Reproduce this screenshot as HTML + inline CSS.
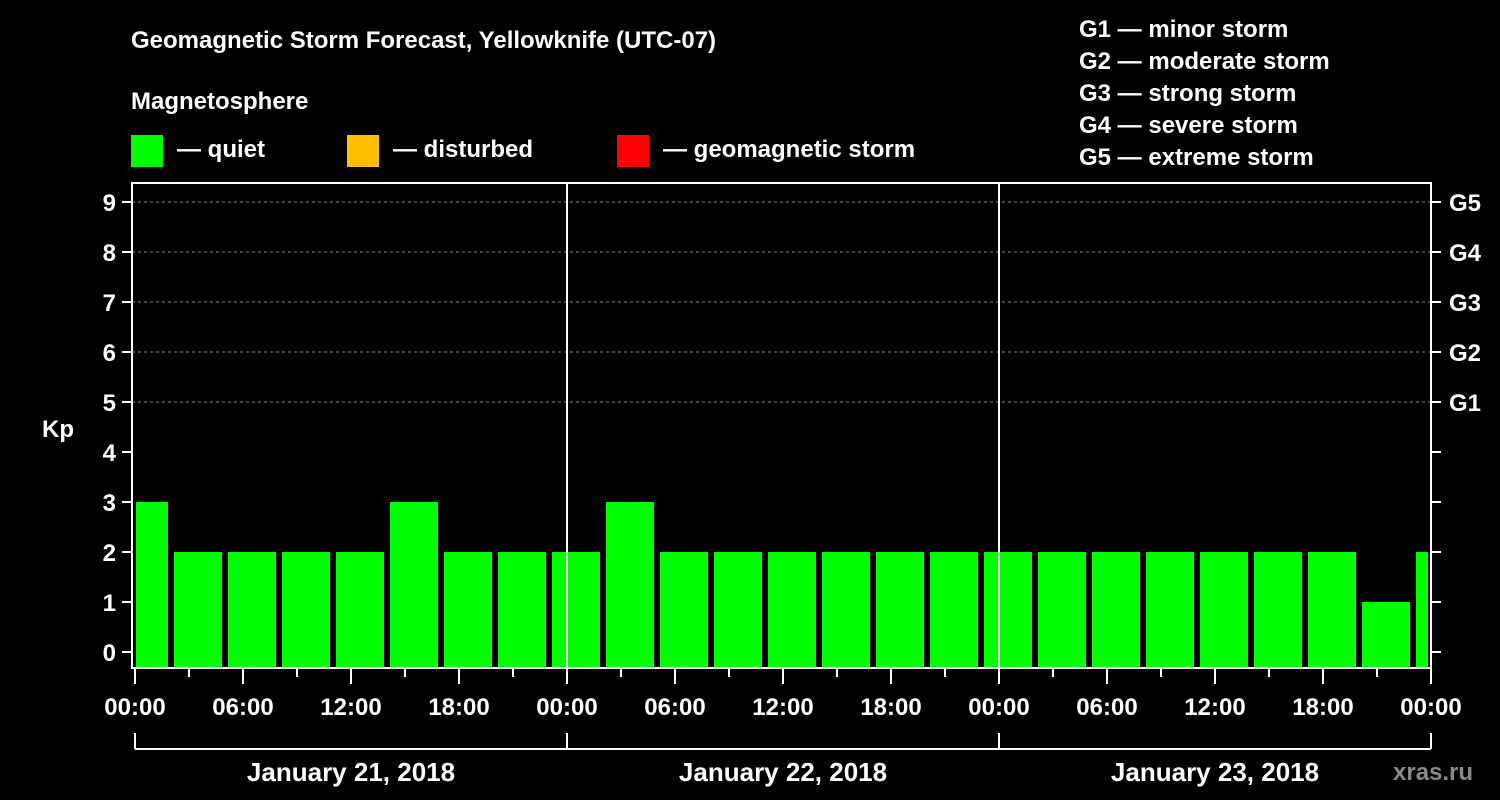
<!DOCTYPE html>
<html><head><meta charset="utf-8"><style>
html,body{margin:0;padding:0;background:#000;width:1500px;height:800px;overflow:hidden}
svg text{font-family:"Liberation Sans",Arial,sans-serif;font-weight:bold;fill:#fff}
</style></head><body>
<svg id="c" width="1500" height="800" xmlns="http://www.w3.org/2000/svg">
<text x="131" y="48" font-size="24">Geomagnetic Storm Forecast, Yellowknife (UTC-07)</text>
<text x="131" y="109" font-size="24">Magnetosphere</text>
<g><rect x="131" y="135" width="32" height="32" fill="#00ff00"/><text x="177" y="157" font-size="24">— quiet</text></g>
<g><rect x="347" y="135" width="32" height="32" fill="#ffbf00"/><text x="393" y="157" font-size="24">— disturbed</text></g>
<g><rect x="617" y="135" width="32" height="32" fill="#ff0000"/><text x="663" y="157" font-size="24">— geomagnetic storm</text></g>
<g font-size="24">
<text x="1079" y="37" font-size="24">G1 — minor storm</text>
<text x="1079" y="69" font-size="24">G2 — moderate storm</text>
<text x="1079" y="101" font-size="24">G3 — strong storm</text>
<text x="1079" y="133" font-size="24">G4 — severe storm</text>
<text x="1079" y="165" font-size="24">G5 — extreme storm</text>
</g>
<g id="grid"></g><g id="bars"></g><g id="axes"></g>
<text x="1393" y="780" font-size="24" fill="#888" style="fill:#8a8a8a">xras.ru</text>
</svg>
<script>
const kpValues=[3,2,2,2,2,3,2,2,2,3,2,2,2,2,2,2,2,2,2,2,2,2,2,1,2];
const kpTicks=[0,1,2,3,4,5,6,7,8,9];
const gLabels=["G1","G2","G3","G4","G5"];
const hourLabels=["00:00","06:00","12:00","18:00"];
const dayLabels=["January 21, 2018","January 22, 2018","January 23, 2018"];
const NS="http://www.w3.org/2000/svg";
const X0=135,PXH=18,L=132,R=1431,T=183,B=668;
const xs=h=>X0+h*PXH;
const ys=v=>652-50*v;
function mk(p,tag,a){const e=document.createElementNS(NS,tag);for(const k in a)e.setAttribute(k,a[k]);p.appendChild(e);return e;}
const grid=document.getElementById('grid'),bars=document.getElementById('bars'),axes=document.getElementById('axes');
for(let v=5;v<=9;v++){const l=mk(grid,'line',{x1:L,x2:R,y1:ys(v),y2:ys(v),stroke:'#888','stroke-dasharray':'3,3','stroke-width':1});

}
kpValues.forEach((v,i)=>{
 let s=xs(2+3*(i-1))+3,e=xs(2+3*i)-3;
 s=Math.max(s,L+4);e=Math.min(e,R-3);
 const col=v>=5?'#ff0000':(v>=4?'#ffbf00':'#00ff00');
 const r=mk(bars,'rect',{x:s,y:ys(v),width:e-s,height:B-ys(v),fill:col});
 
 
});
for(let d=1;d<3;d++){const l=mk(axes,'line',{x1:xs(24*d),x2:xs(24*d),y1:T,y2:B,stroke:'#fff','stroke-width':2});

}
mk(axes,'path',{d:`M${L} ${T}H${R}V${B}H${L}Z`,fill:'none',stroke:'#fff','stroke-width':2});
kpTicks.forEach(v=>{
 mk(axes,'line',{x1:L-10,x2:L,y1:ys(v),y2:ys(v),stroke:'#fff','stroke-width':2});
 mk(axes,'line',{x1:R,x2:R+10,y1:ys(v),y2:ys(v),stroke:'#fff','stroke-width':2});
 const t=mk(axes,'text',{x:L-16,y:ys(v)+9,'font-size':24,'text-anchor':'end'});t.textContent=v;
 
 
});
gLabels.forEach((g,i)=>{const t=mk(axes,'text',{x:1449,y:ys(5+i)+9,'font-size':24});t.textContent=g;
 
 });
const yt=mk(axes,'text',{x:42,y:437,'font-size':24});yt.textContent='Kp';


for(let h=0;h<=72;h+=3){const major=h%6==0;
 mk(axes,'line',{x1:xs(h),x2:xs(h),y1:B,y2:B+(major?16:9),stroke:'#fff','stroke-width':2});
 if(major&&h%6==0&&(h%24==0||true)){const lbl=hourLabels[(h%24)/6];
  const t=mk(axes,'text',{x:xs(h),y:715,'font-size':24,'text-anchor':'middle'});t.textContent=lbl;
  
  }
}
mk(axes,'line',{x1:xs(0),x2:xs(72),y1:749,y2:749,stroke:'#fff','stroke-width':2});
for(let d=0;d<=3;d++)mk(axes,'line',{x1:xs(24*d),x2:xs(24*d),y1:733,y2:749,stroke:'#fff','stroke-width':2});
dayLabels.forEach((s,i)=>{const t=mk(axes,'text',{x:xs(24*i+12),y:781,'font-size':26,'text-anchor':'middle'});t.textContent=s;
 
 });
</script>
</body></html>
